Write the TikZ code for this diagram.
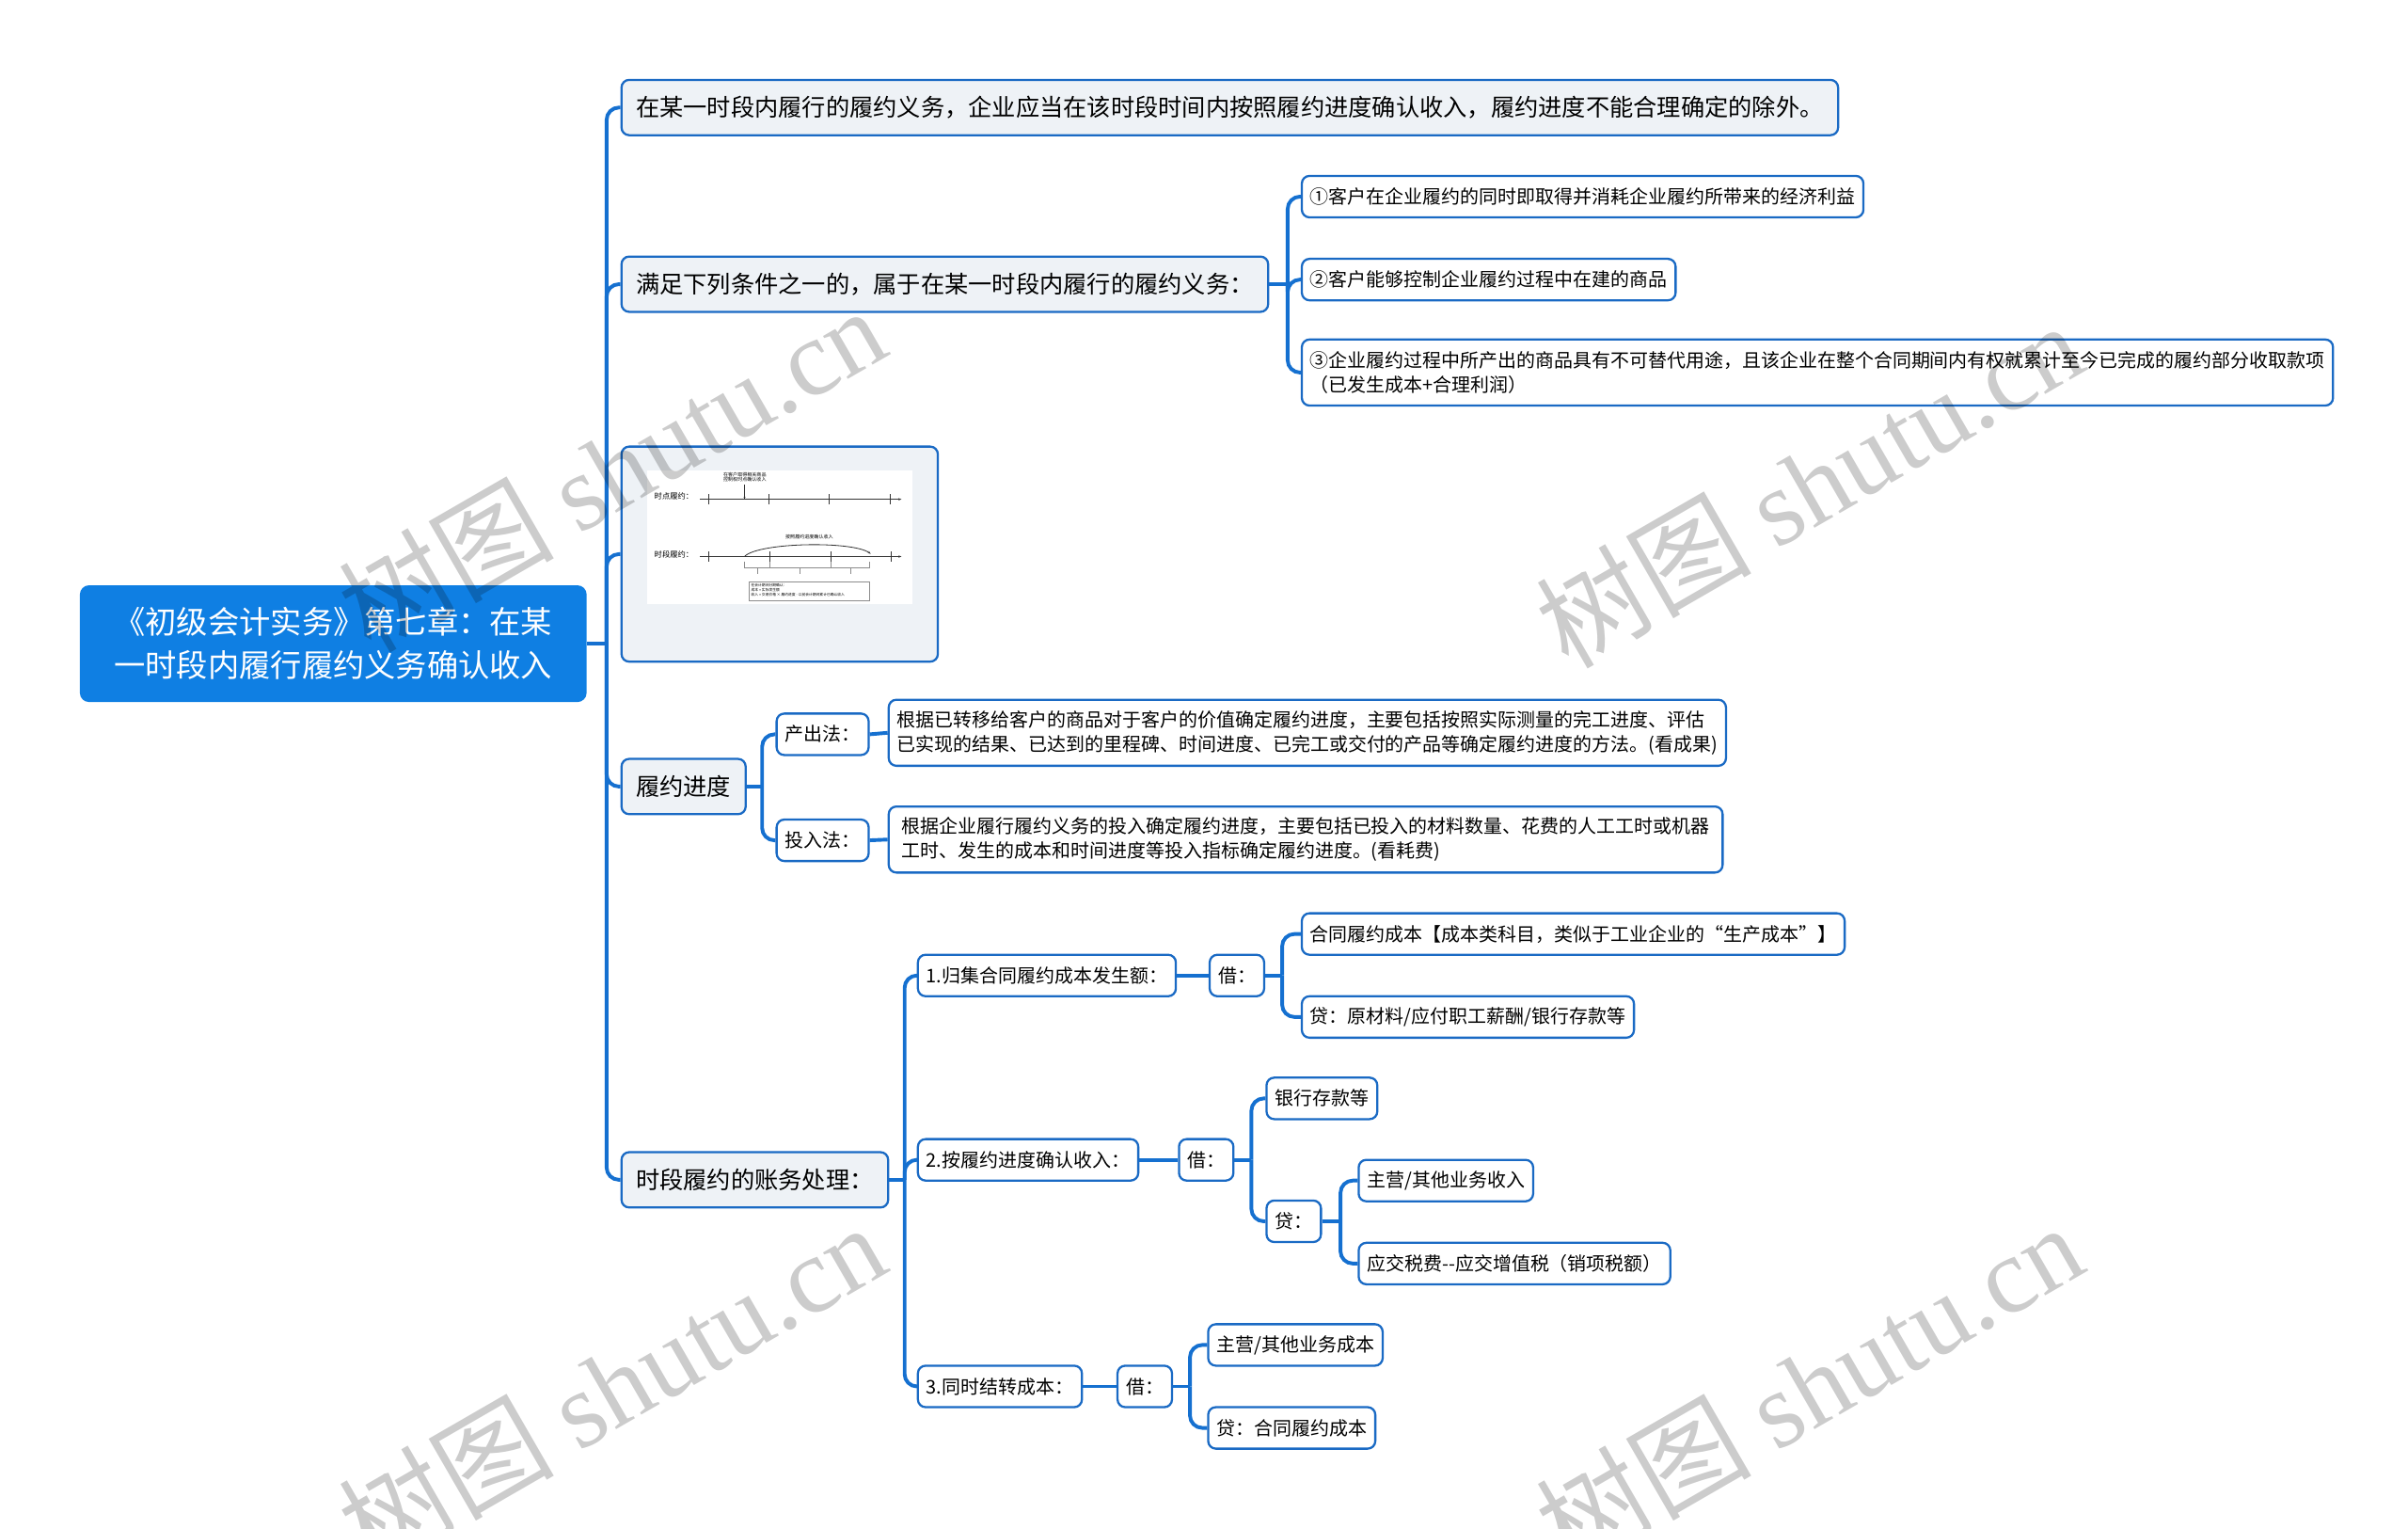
\documentclass[tikz,border=0pt]{standalone}
\usepackage{fontspec}
\setmainfont{Noto Sans CJK SC}
\newfontfamily\wmserif{Liberation Serif}
\usetikzlibrary{arrows.meta,positioning}
\definecolor{rootblue}{HTML}{0F7FE3}
\definecolor{lineblue}{HTML}{1570D0}
\definecolor{edgeblue}{HTML}{1A6AC4}
\definecolor{soft}{HTML}{EEF2F6}
\newcommand\rootfont{\fontsize{29}{40}\selectfont}
\newcommand\topicfont{\fontsize{22}{28}\selectfont}
\newcommand\leaffont{\fontsize{17.4}{22.8}\selectfont}
\newcommand\picfont{\fontsize{7.2}{9}\selectfont}
\newcommand\notefont{\fontsize{4.4}{4.8}\selectfont}
\newcommand\tinyfont{\fontsize{3.3}{4.7}\selectfont}

\begin{document}
\begin{tikzpicture}[
    x=0.5mm,y=-0.5mm,
    rootbox/.style={fill=rootblue,text=white,rounded corners=3mm,minimum width=165mm,minimum height=38mm,align=center,font=\rootfont},
    topicbox/.style={draw=edgeblue,line width=0.7mm,fill=soft,rounded corners=2.5mm,inner xsep=4.75mm,minimum height=18mm,font=\topicfont,anchor=west},
    leafbox/.style={draw=edgeblue,line width=0.7mm,fill=white,rounded corners=2.5mm,inner xsep=2.75mm,minimum height=13.5mm,font=\leaffont,anchor=west,align=left},
    link/.style={draw=lineblue,line width=1.2mm,rounded corners=4mm},
    sketch/.style={draw=black!80,line width=0.25mm},
    wmark/.style={text=black,text opacity=0.2,rotate=30,font=\fontsize{100}{100}\selectfont}
  ]
    \useasboundingbox (0,0) rectangle (1568,995);

    % root and first level
    \node[rootbox] (root) at (217,419) {《初级会计实务》第七章：在某\\一时段内履行履约义务确认收入};
    \coordinate (trunk) at (395,419);
    \node[topicbox] (obl) at (404,70) {在某一时段内履行的履约义务，企业应当在该时段时间内按照履约进度确认收入，履约进度不能合理确定的除外。};
    \node[topicbox] (cond) at (404,185) {满足下列条件之一的，属于在某一时段内履行的履约义务：};
    \node[topicbox,anchor=north west,minimum width=103mm,minimum height=70mm] (pic) at (404,290) {};
    \node[topicbox] (prog) at (404,512) {履约进度};
    \node[topicbox] (acct) at (404,768) {时段履约的账务处理：};

    \draw[link] (root.east) -- (trunk);
    \draw[link] (trunk) |- (obl.west);
    \draw[link] (trunk) |- (cond.west);
    \draw[link] (trunk) |- (pic.west);
    \draw[link] (trunk) |- (prog.west);
    \draw[link] (trunk) |- (acct.west);

    % conditions
    \node[leafbox] (c1) at (847,128) {①客户在企业履约的同时即取得并消耗企业履约所带来的经济利益};
    \node[leafbox] (c2) at (847,182) {②客户能够控制企业履约过程中在建的商品};
    \node[leafbox,minimum height=21.5mm] (c3) at (847,242.5) {③企业履约过程中所产出的商品具有不可替代用途，且该企业在整个合同期间内有权就累计至今已完成的履约部分收取款项\\（已发生成本+合理利润）};
    \coordinate (cf) at ([xshift=6mm]cond.east);
    \draw[link] (cond.east) -- (cf);
    \draw[link] (cf) |- (c1.west);
    \draw[link] (cf) |- (c2.west);
    \draw[link] (cf) |- (c3.west);

    % picture of the two timelines
    \fill[white] (421.5,306) rectangle (594,393);
    \node[font=\picfont,anchor=west,inner sep=0] (pt1) at (426,323) {时点履约：};
    \node[font=\picfont,anchor=west,inner sep=0] (pt2) at (426,361) {时段履约：};
    \node[font=\notefont,align=center,inner sep=0] (pn1) at (485,310.5) {在客户取得相关商品\\控制权时点确认收入};
    \node[font=\notefont,inner sep=0] (pn2) at (527,349.5) {按照履约进度确认收入};
    \draw[sketch,-{Stealth[length=1mm]}] (456,325) -- (587,325);
    \draw[sketch,-{Stealth[length=1mm]}] (456,362.3) -- (587,362.3);
    \draw[sketch,-{Stealth[length=0.8mm]}] (484.8,315.5) -- (484.8,325);
    \draw[sketch] (461.3,321.7) -- (461.3,328.5) (500.7,321.7) -- (500.7,328.5)
      (539.9,321.7) -- (539.9,328.5) (579.7,321.7) -- (579.7,328.5);
    \draw[sketch] (461.3,359) -- (461.3,365.6) (501.1,359) -- (501.1,365.6)
      (540.9,359) -- (540.9,365.6) (580.3,359) -- (580.3,365.6);
    \draw[sketch,-{Stealth[length=1mm]}] (485,362) .. controls (495,353) and (555,352) .. (567,360.5);
    \draw[draw=black!45,line width=0.2mm] (484.8,365.4) |- (566.4,369.5) -- (566.4,365.4)
      (501.1,365.4) -- (501.1,369.5) (540.9,365.4) -- (540.9,369.5)
      (493,369.5) -- (493,373.5) (520.9,369.5) -- (520.9,373.5) (553.6,369.5) -- (553.6,373.5);
    \draw[draw=black!45,line width=0.2mm] (487.5,378.6) rectangle (566.4,390.9);
    \node[font=\tinyfont,align=left,anchor=north west,inner sep=0] (pbox) at (489,379.6)
      {在会计期间分期确认：\\成本 = 实际发生额\\收入 = 交易价格 × 履约进度 - 以前会计期间累计已确认收入};

    % progress methods
    \node[leafbox] (outm) at (505,478) {产出法：};
    \node[leafbox] (inm) at (505,547) {投入法：};
    \node[leafbox,minimum height=21.5mm,minimum width=271.5mm] (outd) at (578,477) {根据已转移给客户的商品对于客户的价值确定履约进度，主要包括按照实际测量的完工进度、评估\\已实现的结果、已达到的里程碑、时间进度、已完工或交付的产品等确定履约进度的方法。(看成果)};
    \node[leafbox,minimum height=21.5mm,minimum width=271.5mm] (ind) at (578,546.5) {根据企业履行履约义务的投入确定履约进度，主要包括已投入的材料数量、花费的人工工时或机器\\工时、发生的成本和时间进度等投入指标确定履约进度。(看耗费)};
    \coordinate (pf) at ([xshift=5mm]prog.east);
    \draw[link] (prog.east) -- (pf);
    \draw[link] (pf) |- (outm.west);
    \draw[link] (pf) |- (inm.west);
    \draw[link] (outm.east) -- (outd.west);
    \draw[link] (inm.east) -- (ind.west);

    % accounting entries
    \node[leafbox] (a1) at (597,635) {1.归集合同履约成本发生额：};
    \node[leafbox] (a2) at (597,755) {2.按履约进度确认收入：};
    \node[leafbox] (a3) at (597,902.5) {3.同时结转成本：};
    \coordinate (af) at ([xshift=5mm]acct.east);
    \draw[link] (acct.east) -- (af);
    \draw[link] (af) |- (a1.west);
    \draw[link] (af) |- (a2.west);
    \draw[link] (af) |- (a3.west);

    \node[leafbox] (b1) at (787,635) {借：};
    \node[leafbox] (b1x) at (847,608) {合同履约成本【成本类科目，类似于工业企业的“生产成本”】};
    \node[leafbox] (b1y) at (847,662) {贷：原材料/应付职工薪酬/银行存款等};
    \draw[link] (a1.east) -- (b1.west);
    \coordinate (b1f) at ([xshift=5.5mm]b1.east);
    \draw[link] (b1.east) -- (b1f);
    \draw[link] (b1f) |- (b1x.west);
    \draw[link] (b1f) |- (b1y.west);

    \node[leafbox] (b2) at (767,755) {借：};
    \node[leafbox] (b2x) at (824,715) {银行存款等};
    \node[leafbox] (b2y) at (824,795) {贷：};
    \node[leafbox] (b2y1) at (884,768.5) {主营/其他业务收入};
    \node[leafbox] (b2y2) at (884,822.5) {应交税费-{}-应交增值税（销项税额）};
    \draw[link] (a2.east) -- (b2.west);
    \coordinate (b2f) at ([xshift=5.5mm]b2.east);
    \draw[link] (b2.east) -- (b2f);
    \draw[link] (b2f) |- (b2x.west);
    \draw[link] (b2f) |- (b2y.west);
    \coordinate (b2yf) at ([xshift=6mm]b2y.east);
    \draw[link] (b2y.east) -- (b2yf);
    \draw[link] (b2yf) |- (b2y1.west);
    \draw[link] (b2yf) |- (b2y2.west);

    \node[leafbox] (b3) at (727,902.5) {借：};
    \node[leafbox] (b3x) at (786,875.5) {主营/其他业务成本};
    \node[leafbox] (b3y) at (786,929.5) {贷：合同履约成本};
    \draw[link] (a3.east) -- (b3.west);
    \coordinate (b3f) at ([xshift=5.5mm]b3.east);
    \draw[link] (b3.east) -- (b3f);
    \draw[link] (b3f) |- (b3x.west);
    \draw[link] (b3f) |- (b3y.west);

    % watermark
    \node[wmark] (wm1) at (398,305) {树图 {\wmserif shutu.cn}};
    \node[wmark] (wm2) at (1178,315) {树图 {\wmserif shutu.cn}};
    \node[wmark] (wm3) at (398,902) {树图 {\wmserif shutu.cn}};
    \node[wmark] (wm4) at (1178,902) {树图 {\wmserif shutu.cn}};
  \end{tikzpicture}
\end{document}
